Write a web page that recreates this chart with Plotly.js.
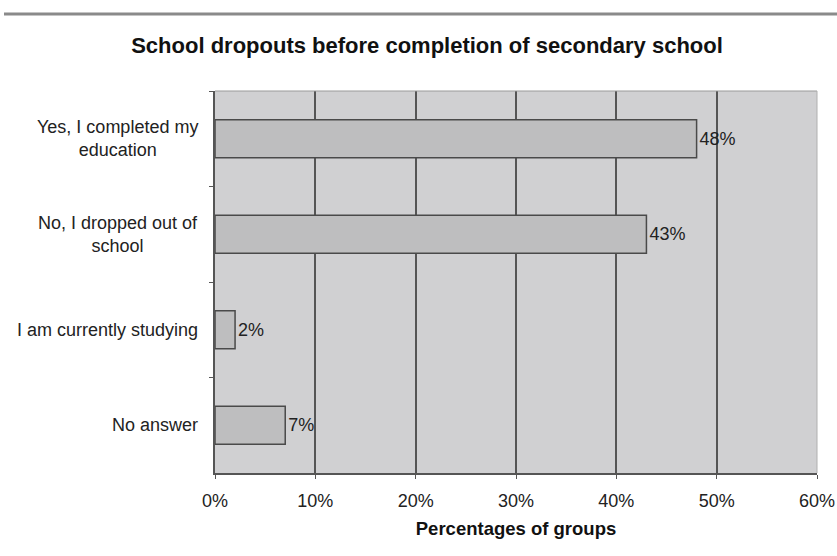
<!DOCTYPE html>
<html>
<head>
<meta charset="utf-8">
<script src="https://cdn.plot.ly/plotly-3.0.1.min.js"></script>
<style>html,body{margin:0;padding:0;background:#fff;}#chart{width:837px;height:556px;}</style>
</head>
<body>
<div id="chart"></div>
<script>
var categories = ["Yes, I completed my<br>education", "No, I dropped out of<br>school", "I am currently studying", "No answer"];
var values = [48, 43, 2, 7];
var valueLabels = ["48%", "43%", "2%", "7%"];
var xTickValues = [0, 10, 20, 30, 40, 50, 60];
var xTickLabels = ["0%", "10%", "20%", "30%", "40%", "50%", "60%"];

var FONT = "Liberation Sans, Arial, sans-serif";

var trace = {
  type: "bar",
  orientation: "h",
  y: categories,
  x: values,
  text: valueLabels,
  textposition: "outside",
  cliponaxis: false,
  textfont: {family: FONT, size: 18, color: "#222"},
  marker: {color: "#bebebf", line: {color: "#4a4a4a", width: 1.5}},
  width: 0.4,
  hoverinfo: "none"
};

var annotations = categories.map(function (c) {
  return {
    xref: "paper", yref: "y", x: -0.025, y: c, text: c,
    xanchor: "right", yanchor: "middle", align: "center", showarrow: false,
    font: {family: FONT, size: 18, color: "#222"}
  };
});

var layout = {
  width: 837, height: 556,
  margin: {l: 215, r: 20, t: 91, b: 83},
  paper_bgcolor: "#ffffff",
  plot_bgcolor: "#d0d0d2",
  showlegend: false,
  title: {
    text: "<b>School dropouts before completion of secondary school</b>",
    font: {family: FONT, size: 22, color: "#111"},
    x: 427 / 837, xref: "container", xanchor: "center",
    y: 1 - 45 / 556, yref: "container", yanchor: "middle"
  },
  xaxis: {
    range: [0, 60],
    tickvals: xTickValues,
    ticktext: xTickLabels,
    showgrid: true, gridcolor: "#555555", gridwidth: 2,
    zeroline: false,
    showline: true, linecolor: "#555555", linewidth: 2,
    ticks: "outside", ticklen: 4, tickcolor: "#555555",
    ticklabelstandoff: 6,
    tickfont: {family: FONT, size: 18, color: "#222"},
    title: {text: "<b>Percentages of groups</b>", font: {family: FONT, size: 18.5, color: "#111"}, standoff: 12},
    fixedrange: true
  },
  yaxis: {
    type: "category",
    autorange: "reversed",
    tickson: "boundaries",
    showticklabels: false,
    showgrid: false,
    showline: true, linecolor: "#555555", linewidth: 2,
    ticks: "outside", ticklen: 4, tickcolor: "#555555",
    fixedrange: true
  },
  annotations: annotations,
  shapes: [
    {type: "line", xref: "paper", yref: "paper", x0: (4 - 215) / 602, x1: (837 - 215) / 602,
     y0: (473 - 14) / 382, y1: (473 - 14) / 382, line: {color: "#8a8a8a", width: 3}},
    {type: "line", xref: "paper", yref: "paper", x0: 0, x1: 1, y0: 1, y1: 1, line: {color: "#9a9a9a", width: 1}},
    {type: "line", xref: "paper", yref: "paper", x0: 1, x1: 1, y0: 0, y1: 1, line: {color: "#b0b0b0", width: 1}}
  ]
};

Plotly.newPlot("chart", [trace], layout, {displayModeBar: false, staticPlot: true});
</script>
</body>
</html>
